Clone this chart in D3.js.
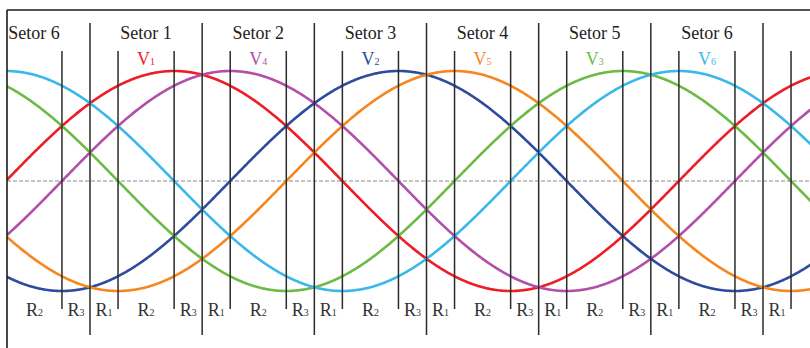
<!DOCTYPE html>
<html>
<head>
<meta charset="utf-8">
<script src="https://cdn.jsdelivr.net/npm/d3@7"></script>
<style>
  html, body { margin: 0; padding: 0; background: #fff; }
  svg { display: block; }
  text { font-family: "Liberation Serif", "Times New Roman", serif; }
</style>
</head>
<body>
<svg id="chart" width="810" height="348"></svg>
<script>
// Six-phase voltages: names, peak angle (electrical degrees) and colour
const seriesNames = ["V1", "V4", "V2", "V5", "V3", "V6"];
const seriesPeakDeg = [45, 75, 165, 195, 285, 315];
const seriesColors = ["#ee1d25", "#b24fa8", "#2f4b9c", "#f7861e", "#6cbb45", "#3bb8ea"];

// Sector labels (one per 60° sector, starting before 0°)
const sectorLabels = ["Setor 6", "Setor 1", "Setor 2", "Setor 3", "Setor 4", "Setor 5", "Setor 6"];
const sectorStartDeg = [-60, 0, 60, 120, 180, 240, 300];
// Voltage label shown in each sector
const sectorVoltage = [null, "V1", "V4", "V2", "V5", "V3", "V6"];
// Sub-regions inside each 60° sector
const regionNames = ["R1", "R2", "R3"];
const regionStartDeg = [0, 15, 45];
const regionEndDeg = [15, 45, 60];

const svg = d3.select("#chart");
const W = 810, H = 348;
const frameLeft = 7, frameTop = 10;

const x = d3.scaleLinear().domain([0, 360]).range([90, 763]);
const y = d3.scaleLinear().domain([-1, 1]).range([291, 71]);
const thetaMin = x.invert(frameLeft), thetaMax = x.invert(W);

svg.append("defs").append("clipPath").attr("id", "plot")
  .append("rect").attr("x", frameLeft).attr("y", frameTop)
  .attr("width", W - frameLeft).attr("height", H - frameTop);

// zero reference
svg.append("line")
  .attr("x1", frameLeft).attr("x2", W).attr("y1", y(0)).attr("y2", y(0))
  .attr("stroke", "#8a8a8a").attr("stroke-width", 1.2).attr("stroke-dasharray", "4,2");

// waveforms
const thetas = d3.range(thetaMin, thetaMax + 0.5, 0.5);
const g = svg.append("g").attr("clip-path", "url(#plot)");
seriesNames.forEach((name, i) => {
  const line = d3.line()
    .x(t => x(t))
    .y(t => y(Math.cos((t - seriesPeakDeg[i]) * Math.PI / 180)));
  g.append("path").datum(thetas)
    .attr("d", line)
    .attr("fill", "none")
    .attr("stroke", seriesColors[i])
    .attr("stroke-width", 2.6);
});

// sector boundaries (long) and region boundaries (short)
const sectorBounds = d3.range(0, 361, 60);
svg.append("g").selectAll("line").data(sectorBounds).join("line")
  .attr("x1", d => x(d)).attr("x2", d => x(d))
  .attr("y1", 23).attr("y2", 335)
  .attr("stroke", "#2b2b2b").attr("stroke-width", 1.5);

const regionBounds = [];
sectorStartDeg.concat([360]).forEach(s => { regionBounds.push(s + 15, s + 45); });
svg.append("g").selectAll("line")
  .data(regionBounds.filter(d => x(d) > frameLeft && x(d) < W)).join("line")
  .attr("x1", d => x(d)).attr("x2", d => x(d))
  .attr("y1", 51).attr("y2", 309)
  .attr("stroke", "#2b2b2b").attr("stroke-width", 1.5);

// frame (top and left)
svg.append("line").attr("x1", frameLeft).attr("x2", W).attr("y1", frameTop).attr("y2", frameTop)
  .attr("stroke", "#1a1a1a").attr("stroke-width", 1.6);
svg.append("line").attr("x1", frameLeft).attr("x2", frameLeft).attr("y1", frameTop).attr("y2", H)
  .attr("stroke", "#1a1a1a").attr("stroke-width", 1.6);

// sector titles
svg.append("g").selectAll("text").data(sectorLabels).join("text")
  .attr("x", (d, i) => x(sectorStartDeg[i] + 30))
  .attr("y", 39)
  .attr("text-anchor", "middle")
  .attr("font-size", 18)
  .attr("fill", "#222")
  .text(d => d);

// helper: letter with a small subscript digit
function subLabel(sel, cx, cy, label, color) {
  const t = sel.append("text")
    .attr("x", cx).attr("y", cy)
    .attr("text-anchor", "middle")
    .attr("fill", color);
  t.append("tspan").attr("font-size", 18).text(label[0]);
  t.append("tspan").attr("font-size", 10).text(label.slice(1));
}

// voltage labels
const vg = svg.append("g");
sectorVoltage.forEach((v, i) => {
  if (!v) return;
  const idx = seriesNames.indexOf(v);
  subLabel(vg, x(sectorStartDeg[i] + 30), 65, v, seriesColors[idx]);
});

// region labels
const rg = svg.append("g");
sectorStartDeg.concat([360]).forEach(s => {
  regionNames.forEach((r, j) => {
    const a = Math.max(s + regionStartDeg[j], thetaMin);
    const b = s + regionEndDeg[j];
    if (b <= thetaMin || x(b) > W) return;
    subLabel(rg, x((a + b) / 2), 316, r, "#333");
  });
});
</script>
</body>
</html>
